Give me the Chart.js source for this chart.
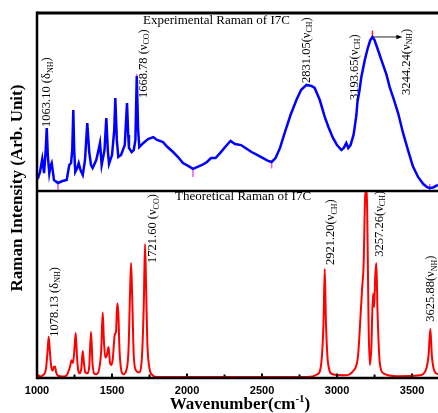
<!DOCTYPE html>
<html>
<head>
<meta charset="utf-8">
<title>Raman of I7C</title>
<script src="https://cdn.jsdelivr.net/npm/chart.js@4.4.1/dist/chart.umd.min.js"></script>
<style>
  html, body { margin: 0; padding: 0; background: #fff; }
  #wrap { position: relative; width: 438px; height: 413px; }
</style>
</head>
<body>
<div id="wrap"><canvas id="raman" width="438" height="413"></canvas></div>
<script>
// ------- data (arb. units 0..100 per panel) -------
const expWavenumber = [
  1000, 1007, 1020, 1035, 1047, 1058, 1065, 1072, 1082, 1090, 1098, 1106, 1113, 1140, 1170, 1198,
  1215, 1227, 1235, 1242, 1248, 1255, 1268, 1278, 1290, 1305, 1320, 1335, 1348, 1360, 1371, 1395,
  1410, 1420, 1431, 1450, 1462, 1472, 1480, 1500, 1515, 1522, 1532, 1542, 1560, 1585, 1600, 1608,
  1613, 1631, 1645, 1656, 1665, 1674, 1682, 1709, 1740, 1775, 1800, 1840, 1870, 1907, 1940, 1973,
  2010, 2040, 2070, 2100, 2133, 2160, 2190, 2220, 2260, 2290, 2320, 2360, 2400, 2430, 2470, 2507,
  2540, 2564, 2590, 2620, 2651, 2690, 2729, 2760, 2796, 2830, 2851, 2885, 2918, 2945, 2973, 3000,
  3029, 3045, 3062, 3075, 3090, 3110, 3118, 3129, 3136, 3150, 3162, 3185, 3205, 3222, 3236, 3250,
  3273, 3300, 3330, 3351, 3380, 3407, 3440, 3473, 3505, 3540, 3575, 3600, 3618, 3640, 3673
];
const expIntensity = [
  7.3, 7.3, 10.7, 18, 10, 23, 35.4, 20, 10, 14, 15.7, 10.7, 6.2, 4.5, 5.6, 6.2,
  14.6, 15.7, 23, 45.5, 23, 10.7, 12.9, 15.7, 11.8, 9, 17.4, 38.2, 21.9, 14.6, 12.9, 17.4,
  23, 27, 14.6, 23, 41, 23, 15.2, 20.2, 34.3, 52.2, 28.7, 19.1, 20.2, 25.8, 49.4, 31.5,
  24.2, 21.9, 23, 28.7, 64.6, 34.3, 24.7, 27, 29.2, 30.3, 28.7, 27.5, 24.7, 21.9, 19.1, 15.7,
  14, 12.4, 13.5, 14.6, 16.3, 18.5, 18.5, 21.3, 25.3, 28.1, 26.4, 25.8, 23.6, 21.9, 20.2, 18.5,
  16.9, 16.3, 18.5, 24.2, 32.6, 42.7, 51.1, 56.7, 59.6, 59, 57.9, 51.1, 41.6, 35.4, 29.8, 25.8,
  23, 24.2, 27, 24.2, 25.8, 31.5, 36, 42.7, 50, 56.7, 64, 73.6, 80.3, 84.8, 86.5, 84.8,
  79.2, 72.5, 65.2, 58.4, 51.1, 43.8, 32.6, 23, 14, 7.9, 3.9, 2.2, 1.7, 2, 3.4
];

const theoWavenumber = [
  1000, 1010, 1020, 1040, 1060, 1070, 1078, 1086, 1095, 1105, 1113, 1120, 1128, 1140, 1170, 1190,
  1205, 1220, 1231, 1240, 1250, 1258, 1266, 1275, 1285, 1295, 1305, 1313, 1322, 1335, 1348, 1360,
  1370, 1380, 1395, 1415, 1428, 1438, 1446, 1455, 1465, 1477, 1487, 1495, 1505, 1518, 1527, 1535,
  1542, 1550, 1560, 1575, 1595, 1610, 1620, 1627, 1634, 1645, 1660, 1680, 1700, 1712, 1720, 1727,
  1735, 1750, 1770, 1800, 2800, 2870, 2895, 2910, 2918, 2926, 2940, 2970, 3050, 3110, 3140, 3158,
  3167, 3177, 3188, 3195, 3201, 3210, 3218, 3228, 3240, 3247, 3255, 3262, 3270, 3285, 3310, 3400,
  3550, 3590, 3610, 3622, 3632, 3650, 3673
];
const theoIntensity = [
  0.5, 1.5, 0.8, 1.5, 5, 14, 22, 14, 6, 4, 6, 6.2, 3, 1.2, 0.8, 1,
  2.5, 6, 9.5, 8, 16, 24, 12, 4, 2.5, 5, 14.4, 8, 3, 2.5, 6, 24.6,
  8, 2.5, 2, 5, 15, 35, 20, 11, 12, 16.6, 8, 7, 10, 23, 25, 40,
  35, 15, 5, 2, 4, 15, 45, 61.5, 45, 12, 4, 3, 12, 40, 71.6, 50,
  20, 5, 1.5, 0.5, 0.5, 2, 8, 30, 58.3, 30, 8, 2, 1.5, 4, 12, 35,
  47.7, 60, 98, 100, 90, 30, 7, 15, 45, 38, 55, 61.5, 35, 8, 2.5, 1,
  1.5, 4, 12, 26.4, 12, 3.5, 2
];

// peak-picking marks on the measured curve
const pickWavenumber = [1140, 1665, 2040, 2564, 3618];
const pickIntensity  = [2.5, 63.8, 9.8, 14.6, 2];
const topPickWavenumber = [3236];
const topPickIntensity  = [88.5];

const xTicks = [1000, 1500, 2000, 2500, 3000, 3500];
const xTickStep = 500;
const xMinorStep = 250;
const xMin = 1000, xMax = 3673;

const expTitle  = 'Experimental Raman of I7C';
const theoTitle = 'Theoretical Raman of I7C';
const yTitle = 'Raman Intensity (Arb. Unit)';

// label text: [number, open, subscript]
const expLabels = [
  ['1063.10', ' (δ', 'NH'],
  ['1668.78', ' (ν', 'CO'],
  ['2831.05', '(ν', 'CH'],
  ['3193.65', '(ν', 'CH'],
  ['3244.24', '(ν', 'NH'],
];
const theoLabels = [
  ['1078.13', ' (δ', 'NH'],
  ['1721.60', ' (ν', 'CO'],
  ['2921.20', '(ν', 'CH'],
  ['3257.26', '(ν', 'CH'],
  ['3625.88', '(ν', 'NH'],
];

// ------- layout (where each rotated label starts, in data units) -------
const expLabelSpots  = [[1067, 36], [1710, 52.2], [2797, 60.7], [3118, 51.1], [3462, 54]];
const theoLabelSpots = [[1118, 22.1], [1773, 61.5], [2960, 60.4], [3285, 64.9], [3627, 30.1]];

const SERIF = '"Liberation Serif", "Times New Roman", serif';
const SANS  = '"Liberation Sans", Arial, sans-serif';

const zip = (xs, ys) => xs.map((x, i) => ({ x, y: ys[i] }));

// ------- drawing helpers -------
function line(ctx, x1, y1, x2, y2, w) {
  ctx.beginPath();
  ctx.lineWidth = w;
  ctx.moveTo(x1, y1);
  ctx.lineTo(x2, y2);
  ctx.stroke();
}

// rotated label: "1063.10 (δ" + sub "NH" + ")"
function rotLabel(ctx, x, y, parts) {
  const [num, open, sub] = parts;
  ctx.save();
  ctx.translate(x, y);
  ctx.rotate(-Math.PI / 2);
  ctx.textAlign = 'left';
  ctx.textBaseline = 'middle';
  ctx.font = `12.5px ${SERIF}`;
  const head = num + open;
  ctx.fillText(head, 0, 0);
  let w = ctx.measureText(head).width;
  ctx.font = `8px ${SERIF}`;
  ctx.fillText(sub, w, 3.5);
  w += ctx.measureText(sub).width;
  ctx.font = `12.5px ${SERIF}`;
  ctx.fillText(')', w, 0);
  ctx.restore();
}

const framePlugin = {
  id: 'frame',
  afterDatasetsDraw(chart) {
    const { ctx, chartArea: a, scales: { x, yExp, yTheo } } = chart;
    ctx.save();
    ctx.strokeStyle = '#000';
    ctx.fillStyle = '#000';

    // frame + divider
    line(ctx, a.left, a.top, a.right, a.top, 3);
    line(ctx, a.left, a.top - 1.5, a.left, a.bottom + 1.2, 2.5);
    line(ctx, a.left, yExp.bottom, a.right, yExp.bottom, 2.5);
    line(ctx, a.left, a.bottom, a.right, a.bottom, 2.5);

    // inward ticks
    for (let v = xMin + xMinorStep; v < xMax; v += xMinorStep) {
      const px = x.getPixelForValue(v);
      const len = v % xTickStep === 0 ? 4.5 : 3.5;
      line(ctx, px, a.bottom, px, a.bottom - len, 2);
    }

    // panel titles
    ctx.font = `13px ${SERIF}`;
    ctx.textAlign = 'left';
    ctx.textBaseline = 'middle';
    ctx.fillText(expTitle, 143, 21);
    ctx.fillText(theoTitle, 175, 197);

    // peak labels
    expLabels.forEach((p, i) => {
      const [wn, v] = expLabelSpots[i];
      rotLabel(ctx, x.getPixelForValue(wn), yExp.getPixelForValue(v), p);
    });
    theoLabels.forEach((p, i) => {
      const [wn, v] = theoLabelSpots[i];
      rotLabel(ctx, x.getPixelForValue(wn), yTheo.getPixelForValue(v), p);
    });

    // arrow from the 3244 peak to its label
    const ax1 = x.getPixelForValue(topPickWavenumber[0]) + 1;
    const ay = yExp.getPixelForValue(topPickIntensity[0]) + 3.5;
    const ax2 = x.getPixelForValue(expLabelSpots[4][0]) - 4;
    ctx.strokeStyle = '#222';
    line(ctx, ax1, ay, ax2 - 4, ay, 1);
    ctx.beginPath();
    ctx.moveTo(ax2, ay);
    ctx.lineTo(ax2 - 6, ay - 2.2);
    ctx.lineTo(ax2 - 6, ay + 2.2);
    ctx.closePath();
    ctx.fill();

    // axis titles
    ctx.font = `bold 17px ${SERIF}`;
    ctx.textAlign = 'center';
    ctx.save();
    ctx.translate(17.5, 188);
    ctx.rotate(-Math.PI / 2);
    ctx.fillText(yTitle, 0, 0);
    ctx.restore();

    const t1 = 'Wavenumber(cm', t2 = '-1', t3 = ')';
    ctx.font = `bold 17px ${SERIF}`;
    const w1 = ctx.measureText(t1).width, w3 = ctx.measureText(t3).width;
    ctx.font = `bold 11px ${SERIF}`;
    const w2 = ctx.measureText(t2).width;
    let tx = 240 - (w1 + w2 + w3) / 2;
    ctx.textAlign = 'left';
    ctx.font = `bold 17px ${SERIF}`;
    ctx.fillText(t1, tx, 405);
    tx += w1;
    ctx.font = `bold 11px ${SERIF}`;
    ctx.fillText(t2, tx, 399);
    tx += w2;
    ctx.font = `bold 17px ${SERIF}`;
    ctx.fillText(t3, tx, 405);

    ctx.restore();
  }
};

new Chart(document.getElementById('raman'), {
  type: 'scatter',
  data: {
    datasets: [
      {
        label: 'Theoretical', data: zip(theoWavenumber, theoIntensity), yAxisID: 'yTheo',
        showLine: true, borderColor: '#ff0000', borderWidth: 2, pointRadius: 0,
        cubicInterpolationMode: 'monotone'
      },
      {
        label: 'Experimental', data: zip(expWavenumber, expIntensity), yAxisID: 'yExp',
        showLine: true, borderColor: '#0000ff', borderWidth: 2.5, pointRadius: 0, tension: 0
      },
      {
        label: 'picks', data: zip(pickWavenumber, pickIntensity), yAxisID: 'yExp',
        pointStyle: 'line', rotation: 90, pointRadius: 3.5, borderColor: '#ee55ee', borderWidth: 1.5
      },
      {
        label: 'top pick', data: zip(topPickWavenumber, topPickIntensity), yAxisID: 'yExp',
        pointStyle: 'line', rotation: 90, pointRadius: 3, borderColor: '#ff2020', borderWidth: 1.5
      }
    ]
  },
  options: {
    animation: false,
    responsive: false,
    events: [],
    plugins: { legend: { display: false }, tooltip: { enabled: false } },
    layout: { autoPadding: false, padding: { top: 13, left: 37, right: 0, bottom: 0 } },
    scales: {
      x: {
        type: 'linear', min: xMin, max: xMax,
        afterBuildTicks: (s) => { s.ticks = xTicks.map(v => ({ value: v })); },
        afterFit: (s) => { s.height = 35; s.paddingLeft = 0; s.paddingRight = 0; },
        grid: { display: false, drawTicks: false },
        border: { display: false },
        ticks: {
          color: '#000', padding: 6, maxRotation: 0, autoSkip: false,
          font: { family: SANS, weight: 'bold', size: 11 },
          callback: (v) => String(v)
        }
      },
      yTheo: { stack: 'panels', stackWeight: 187, min: 0, max: 100, display: false, position: 'left' },
      yExp:  { stack: 'panels', stackWeight: 178, min: 0, max: 100, display: false, position: 'left' }
    }
  },
  plugins: [framePlugin]
});
</script>
</body>
</html>
